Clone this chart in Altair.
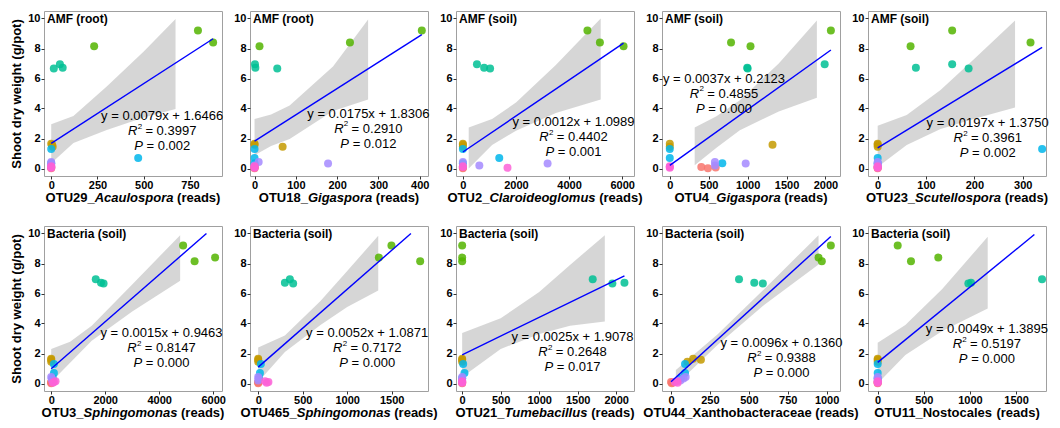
import altair as alt
import pandas as pd

FONT = "Liberation Sans"

# ---------------- data ----------------
group_names = ["G1", "G2", "G3", "G4", "G5", "G6", "G7"]
group_colors = ["#F8766D", "#C49A00", "#53B400", "#00C094", "#00B6EB", "#A58AFF", "#FB61D7"]
point_group = ["G1", "G1", "G1", "G2", "G2", "G2", "G3", "G3", "G3", "G4", "G4", "G4",
               "G5", "G5", "G5", "G6", "G6", "G6", "G7", "G7", "G7"]
shoot_weight = [0.10, 0.02, 0.06, 1.65, 1.58, 1.45, 9.20, 8.40, 8.15, 6.95, 6.72, 6.66,
                1.30, 0.70, 0.35, 0.44, 0.33, 0.20, 0.15, 0.10, 0.05]

x_otu29 = [0, 0, 0, 0, 5, 8, 793, 875, 232, 47, 62, 14, 0, 470, 0, 0, 0, 0, 0, 0, 0]
x_otu18 = [0, 0, 0, 0, 0, 68, 405, 231, 12, 1, 2, 55, 0, 0, 0, 10, 178, 0, 0, 0, 0]
x_otu2 = [0, 0, 0, 0, 0, 0, 4690, 5160, 6050, 530, 800, 1025, 0, 1370, 0, 0, 3190, 620, 0, 0, 1680]
x_otu4 = [405, 490, 590, 0, 1320, 0, 2070, 787, 1037, 1990, 995, 1000, 0, 0, 675, 580, 975, 580, 0, 0, 0]
x_otu23 = [0, 0, 0, 0, 0, 0, 154, 316, 68, 154, 79, 188, 340, 0, 0, 0, 0, 0, 0, 0, 0]
x_otu3 = [0, 0, 0, 0, 0, 0, 4886, 6070, 5311, 1650, 1845, 1940, 100, 100, 60, 0, 20, 40, 160, 100, 60]
x_otu465 = [0, 0, 0, 0, 0, 0, 1497, 1356, 1820, 356, 300, 393, 30, 20, 10, 0, 5, 0, 78, 115, 95]
x_otu21 = [0, 0, 0, 0, 0, 0, 0, 0, 0, 1695, 2107, 1950, 13, 30, 0, 0, 0, 0, 0, 0, 0]
x_otu44 = [0, 5, 10, 142, 192, 105, 1027, 948, 969, 437, 535, 590, 90, 90, 62, 94, 80, 60, 40, 24, 42]
x_otu11 = [0, 0, 0, 0, 0, 0, 217, 657, 361, 1782, 1012, 983, 0, 0, 0, 0, 0, 0, 0, 0, 0]

line_otu29_x, line_otu29_y = [0, 875], [1.68, 8.65]
line_otu18_x, line_otu18_y = [0, 405], [1.83, 8.92]
line_otu2_x, line_otu2_y = [0, 6050], [1.10, 8.36]
line_otu4_x, line_otu4_y = [0, 2070], [0.21, 7.90]
line_otu23_x, line_otu23_y = [0, 340], [1.375, 8.07]
line_otu3_x, line_otu3_y = [0, 5750], [0.98, 10.0]
line_otu465_x, line_otu465_y = [0, 1716], [1.09, 10.0]
line_otu21_x, line_otu21_y = [0, 2107], [1.91, 7.17]
line_otu44_x, line_otu44_y = [0, 1027], [0.12, 9.80]
line_otu11_x, line_otu11_y = [0, 1699], [1.41, 9.93]

band_otu29_x = [0, 120, 300, 500, 672]
band_otu29_lo = [0.35, 1.70, 2.57, 3.40, 3.96]
band_otu29_hi = [2.95, 3.50, 5.47, 7.80, 9.96]
band_otu18_x = [0, 40, 85, 190, 275]
band_otu18_lo = [0.88, 1.50, 1.97, 3.84, 4.60]
band_otu18_hi = [3.30, 3.60, 4.20, 6.80, 9.93]
band_otu2_x = [220, 1100, 2000, 3500, 5190]
band_otu2_lo = [0.00, 1.57, 2.52, 3.70, 4.60]
band_otu2_hi = [2.74, 3.30, 4.40, 6.90, 10.0]
band_otu4_x = [320, 600, 900, 1400, 1890]
band_otu4_lo = [0.22, 1.38, 2.55, 3.80, 4.71]
band_otu4_hi = [2.74, 3.48, 4.55, 7.00, 9.87]
band_otu23_x = [0, 60, 130, 200, 284]
band_otu23_lo = [0.10, 1.56, 2.64, 3.32, 4.06]
band_otu23_hi = [2.85, 3.56, 5.24, 7.32, 9.87]
band_otu3_x = [0, 700, 1500, 3000, 4776]
band_otu3_lo = [0.10, 1.38, 2.85, 4.80, 6.85]
band_otu3_hi = [2.30, 2.78, 3.85, 6.60, 9.89]
band_otu465_x = [0, 300, 700, 1000, 1349]
band_otu465_lo = [0.10, 2.10, 3.90, 5.10, 6.20]
band_otu465_hi = [2.40, 3.20, 5.50, 7.50, 9.85]
band_otu21_x = [0, 500, 1000, 1400, 1852]
band_otu21_lo = [0.43, 2.30, 3.30, 3.85, 4.13]
band_otu21_hi = [3.37, 4.35, 6.10, 7.90, 9.89]
band_otu44_x = [31, 300, 600, 948]
band_otu44_lo = [-0.10, 2.58, 5.25, 7.93]
band_otu44_hi = [0.90, 3.28, 6.30, 9.89]
band_otu11_x = [0, 300, 700, 1193]
band_otu11_lo = [0.00, 1.90, 3.50, 5.00]
band_otu11_hi = [2.71, 3.90, 6.30, 9.78]

x_domains = [[-39, 923], [-11, 420], [-259, 6444], [-100, 2187], [-20, 348],
             [-267, 6326], [-92, 1908], [-80, 2231], [-58, 1086], [-105, 1825]]
x_ticks = [[0, 250, 500, 750], [0, 100, 200, 300, 400], [0, 2000, 4000, 6000],
           [0, 500, 1000, 1500, 2000], [0, 100, 200, 300], [0, 2000, 4000, 6000],
           [0, 500, 1000, 1500], [0, 500, 1000, 1500, 2000], [0, 250, 500, 750, 1000],
           [0, 500, 1000, 1500]]
y_ticks = [0, 2, 4, 6, 8, 10]

panel_labels = ["AMF (root)", "AMF (root)", "AMF (soil)", "AMF (soil)", "AMF (soil)",
                "Bacteria (soil)", "Bacteria (soil)", "Bacteria (soil)", "Bacteria (soil)",
                "Bacteria (soil)"]
eq_texts = ["y = 0.0079x + 1.6466", "y = 0.0175x + 1.8306", "y = 0.0012x + 1.0989",
            "y = 0.0037x + 0.2123", "y = 0.0197x + 1.3750", "y = 0.0015x + 0.9463",
            "y = 0.0052x + 1.0871", "y = 0.0025x + 1.9078", "y = 0.0096x + 0.1360",
            "y = 0.0049x + 1.3895"]
r2_texts = ["0.3997", "0.2910", "0.4402", "0.4855", "0.3961",
            "0.8147", "0.7172", "0.2648", "0.9388", "0.5197"]
p_texts = ["0.002", "0.012", "0.001", "0.000", "0.002",
           "0.000", "0.000", "0.017", "0.000", "0.000"]
title_plain = ["OTU29_", "OTU18_", "OTU2_", "OTU4_", "OTU23_",
               "OTU3_", "OTU465_", "OTU21_", "OTU44_Xanthobacteraceae", "OTU11_Nostocales"]
title_italic = ["Acaulospora", "Gigaspora", "Claroideoglomus", "Gigaspora", "Scutellospora",
                "Sphingomonas", "Sphingomonas", "Tumebacillus", "", ""]
y_title = "Shoot dry weight (g/pot)"

# annotation anchor (centre of the equation line) in pixels of a 180x169 panel
ann_cx = [119.5, 119.7, 118.8, 62.7, 121.0, 118.8, 118.5, 117.8, 120.8, 120.2]
ann_cy = [108.0, 105.0, 114.0, 69.3, 115.0, 109.7, 109.7, 114.0, 120.3, 105.7]

# ---------------- layout ----------------
W, H = 178, 165
REF_W, REF_H = 180.0, 169.0
LINE_GAP = 15.0

REG = {" ": 278, "=": 584, "+": 584, ".": 278, "x": 500, "y": 500, "R": 722, "P": 667}
BOLD = {
    "A": 722, "B": 722, "C": 722, "D": 722, "E": 667, "F": 611, "G": 778, "H": 722, "I": 278,
    "J": 556, "K": 722, "L": 611, "M": 833, "N": 722, "O": 778, "P": 667, "Q": 778, "R": 722,
    "S": 667, "T": 611, "U": 722, "V": 667, "W": 944, "X": 667, "Y": 667, "Z": 611,
    "a": 556, "b": 611, "c": 556, "d": 611, "e": 556, "f": 333, "g": 611, "h": 611, "i": 278,
    "j": 278, "k": 556, "l": 278, "m": 889, "n": 611, "o": 611, "p": 611, "q": 611, "r": 389,
    "s": 556, "t": 333, "u": 611, "v": 556, "w": 778, "x": 556, "y": 556, "z": 500,
    "_": 556, " ": 278, "(": 333, ")": 333,
}


def tw(s, size, bold=False):
    table = BOLD if bold else REG
    return sum(table.get(ch, 556) for ch in s) * size / 1000.0


def seg(s, px, py, size, weight="normal", style="normal", align="left"):
    return alt.Chart(alt.Data(values=[{"t": s}])).mark_text(
        align=align, baseline="middle", font=FONT, fontSize=size,
        fontWeight=weight, fontStyle=style, color="black"
    ).encode(x=alt.value(px), y=alt.value(py), text=alt.Text("t:N"))


def make_panel(i, xs_vals, lx, ly, bx, blo, bhi):
    xs = alt.Scale(domain=x_domains[i], nice=False, zero=False)
    ys = alt.Scale(domain=[-0.5, 10.5], nice=False, zero=False)
    xaxis = alt.Axis(values=x_ticks[i], format="d", title=None, labelFlush=False,
                     labelPadding=0)
    if i in (0, 5):
        yaxis = alt.Axis(values=y_ticks, title=y_title, labelFlush=False)
    else:
        yaxis = alt.Axis(values=y_ticks, title=None, labelFlush=False)

    def X(f):
        return alt.X(f + ":Q", scale=xs, axis=xaxis)

    def Y(f):
        return alt.Y(f + ":Q", scale=ys, axis=yaxis)

    band_df = pd.DataFrame({"reads": bx, "lo": blo, "hi": bhi})
    line_df = pd.DataFrame({"reads": lx, "weight": ly})
    pts_df = pd.DataFrame({"reads": xs_vals, "weight": shoot_weight, "grp": point_group})

    band = alt.Chart(band_df).mark_area(color="#999999", opacity=0.4).encode(
        x=X("reads"), y=Y("lo"), y2=alt.Y2("hi:Q"))
    points = alt.Chart(pts_df).mark_circle(size=64, opacity=0.85).encode(
        x=X("reads"), y=Y("weight"),
        color=alt.Color("grp:N", scale=alt.Scale(domain=group_names, range=group_colors),
                        legend=None))
    line = alt.Chart(line_df).mark_line(color="#0000FF", strokeWidth=1.4).encode(
        x=X("reads"), y=Y("weight"))

    layers = [band, points, line]

    # panel label
    layers.append(seg(panel_labels[i], 3, 8.5 * H / REF_H, 12, weight="bold"))

    # annotation
    cx = ann_cx[i] * W / REF_W
    cy = ann_cy[i] * H / REF_H
    layers.append(seg(eq_texts[i], cx, cy, 13, align="center"))
    # R^2 line
    y2 = cy + LINE_GAP
    rest = "= " + r2_texts[i]
    w_r, w_s, w_sp, w_rest = tw("R", 13), tw("2", 8), tw(" ", 13), tw(rest, 13)
    left = cx - (w_r + w_s + w_sp + w_rest) / 2
    layers.append(seg("R", left, y2, 13, style="italic"))
    layers.append(seg("2", left + w_r + 0.3, y2 - 4.5, 8))
    layers.append(seg(rest, left + w_r + w_s + w_sp, y2, 13))
    # P line
    y3 = cy + 2 * LINE_GAP
    prest = "= " + p_texts[i]
    w_p, w_prest = tw("P", 13), tw(prest, 13)
    left = cx - (w_p + w_sp + w_prest) / 2
    layers.append(seg("P", left, y3, 13, style="italic"))
    layers.append(seg(prest, left + w_p + w_sp, y3, 13))

    # x axis title (mixed bold / bold italic)
    ty = H + 22
    p1, p2, p3 = title_plain[i], title_italic[i], "(reads)"
    w1, w2, wsp, w3 = tw(p1, 13, True), tw(p2, 13, True), tw(" ", 13, True), tw(p3, 13, True)
    left = W / 2 - (w1 + w2 + wsp + w3) / 2
    layers.append(seg(p1, left, ty, 13, weight="bold"))
    if p2:
        layers.append(seg(p2, left + w1, ty, 13, weight="bold", style="italic"))
    layers.append(seg(p3, left + w1 + w2 + wsp, ty, 13, weight="bold"))

    return alt.layer(*layers).properties(width=W, height=H)


panels = [
    make_panel(0, x_otu29, line_otu29_x, line_otu29_y, band_otu29_x, band_otu29_lo, band_otu29_hi),
    make_panel(1, x_otu18, line_otu18_x, line_otu18_y, band_otu18_x, band_otu18_lo, band_otu18_hi),
    make_panel(2, x_otu2, line_otu2_x, line_otu2_y, band_otu2_x, band_otu2_lo, band_otu2_hi),
    make_panel(3, x_otu4, line_otu4_x, line_otu4_y, band_otu4_x, band_otu4_lo, band_otu4_hi),
    make_panel(4, x_otu23, line_otu23_x, line_otu23_y, band_otu23_x, band_otu23_lo, band_otu23_hi),
    make_panel(5, x_otu3, line_otu3_x, line_otu3_y, band_otu3_x, band_otu3_lo, band_otu3_hi),
    make_panel(6, x_otu465, line_otu465_x, line_otu465_y, band_otu465_x, band_otu465_lo, band_otu465_hi),
    make_panel(7, x_otu21, line_otu21_x, line_otu21_y, band_otu21_x, band_otu21_lo, band_otu21_hi),
    make_panel(8, x_otu44, line_otu44_x, line_otu44_y, band_otu44_x, band_otu44_lo, band_otu44_hi),
    make_panel(9, x_otu11, line_otu11_x, line_otu11_y, band_otu11_x, band_otu11_lo, band_otu11_hi),
]

chart = alt.concat(
    *panels, columns=5, spacing={"row": 50, "column": 28}, bounds="flush"
).properties(
    padding={"left": 2, "top": 2, "right": 0, "bottom": 0},
    background="white",
).configure_view(
    stroke="#A0A0A0", strokeWidth=1
).configure_axis(
    grid=False, domain=False,
    labelFont=FONT, labelFontSize=11, labelFontWeight="bold", labelColor="black",
    labelPadding=1, tickColor="#333333", tickSize=3, tickWidth=1,
    titleFont=FONT, titleFontSize=13, titleFontWeight="bold", titleColor="black",
    titlePadding=4,
)

chart.save("out.html", embed_options={"renderer": "svg", "actions": False})
